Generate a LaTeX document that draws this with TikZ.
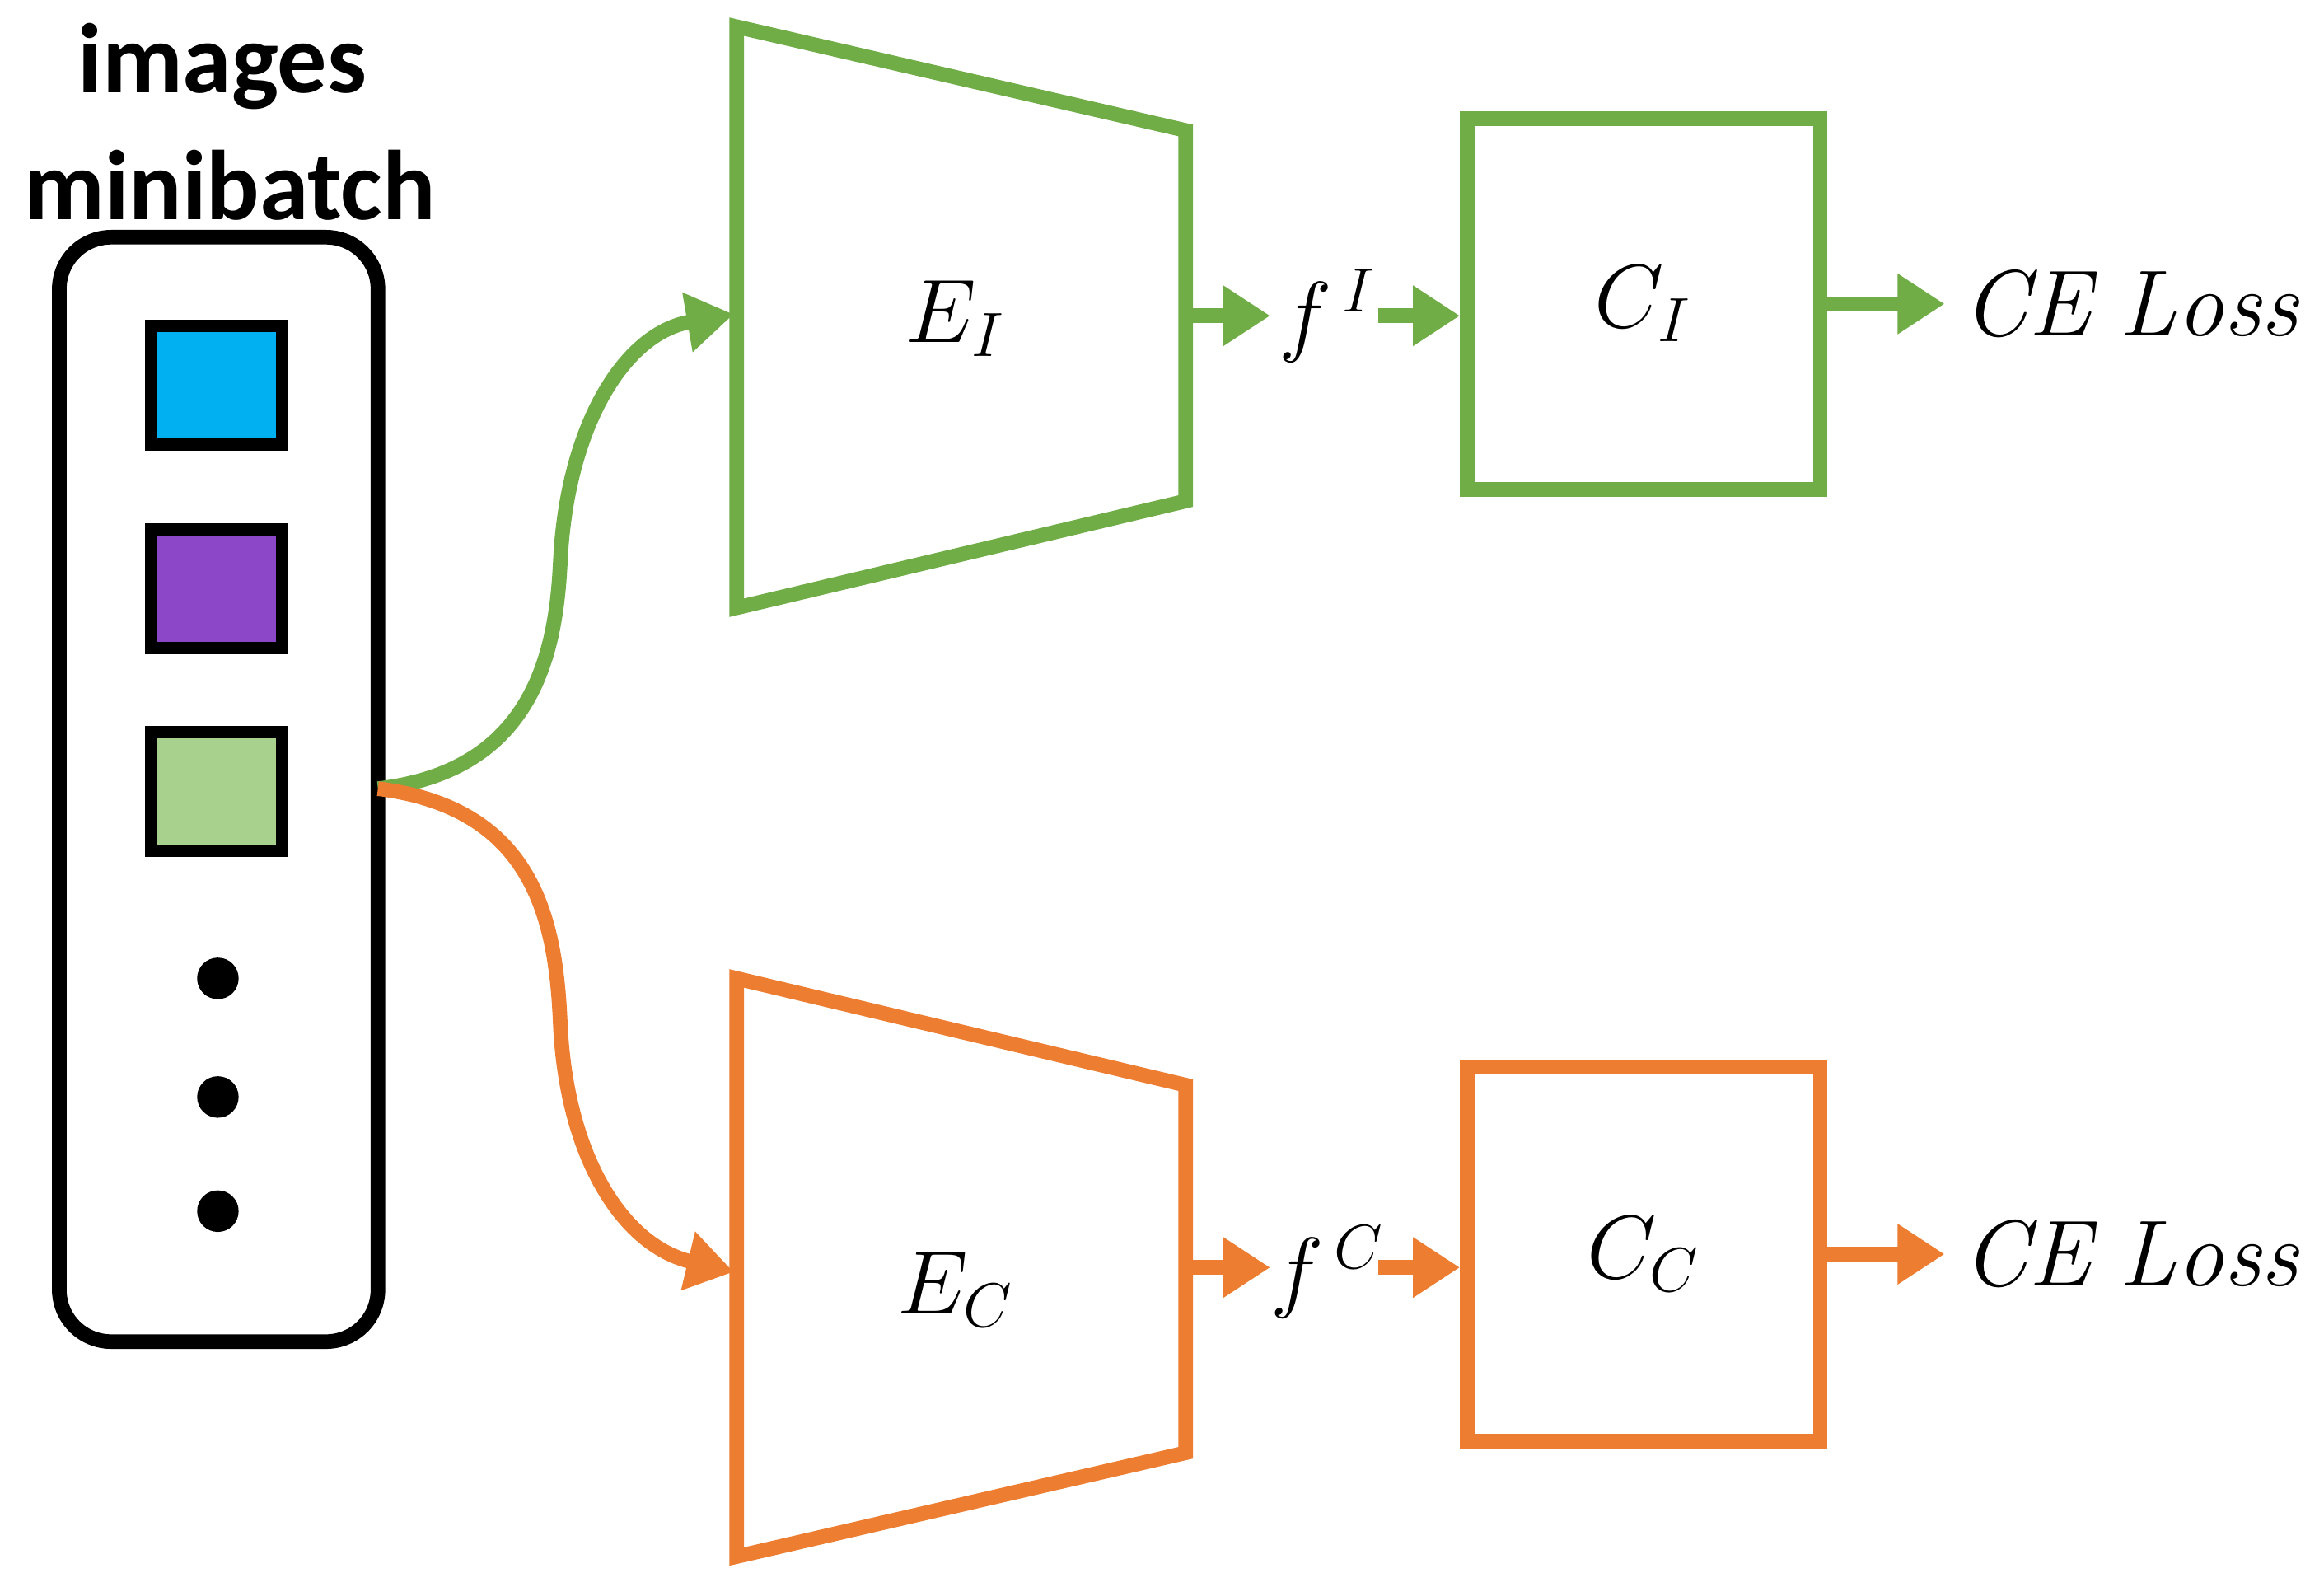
\documentclass[tikz,border=0pt]{standalone}
\usepackage{fontspec}
\setsansfont{Carlito}
\usetikzlibrary{arrows.meta}
\definecolor{gr}{HTML}{70AD47}
\definecolor{orr}{HTML}{ED7D31}
\definecolor{sqb}{HTML}{00B0F0}
\definecolor{sqp}{HTML}{8B47C8}
\definecolor{sqg}{HTML}{A9D18E}
\begin{document}
\begin{tikzpicture}[x=0.01cm,y=-0.01cm,
  lw/.style={line width=2.8pt},
  arr/.style={lw,-{Triangle[length=9pt,width=11pt]}},
  sq/.style={draw=black,line width=2.3pt,minimum width=0.88cm,minimum height=0.8cm,inner sep=0pt},
  lab/.style={font=\fontsize{18pt}{22pt}\selectfont},
  ttl/.style={font=\sffamily\bfseries\fontsize{19pt}{22pt}\selectfont}]
\useasboundingbox (0,0) rectangle (1568,1070);
\node[ttl] (t1) at (150,45) {images};
\node[ttl] (t2) at (155,125) {minibatch};
\draw[line width=2.8pt,rounded corners=0.35cm] (40,160) rectangle (255,905);
\node[sq,fill=sqb] (s1) at (146,260) {};
\node[sq,fill=sqp] (s2) at (146,397) {};
\node[sq,fill=sqg] (s3) at (146,534) {};
\foreach \y in {660,740,817} \fill (147,\y) circle (0.14cm);
\coordinate (src) at (255,532);
\draw[gr,lw,line join=miter] (497,18) -- (800,88) -- (800,338) -- (497,410) -- cycle;
\draw[orr,lw,line join=miter] (497,660) -- (800,732) -- (800,980) -- (497,1050) -- cycle;
\node[lab] (EI) at (645,215) {$E_I$};
\node[lab] (EC) at (645,870) {$E_C$};
\coordinate (ein) at (495,212);
\coordinate (ecin) at (495,858);
\draw[gr,arr] (src) .. controls (360,520) and (375,440) .. (378,380) .. controls (382,290) and (420,225) .. (ein);
\draw[orr,arr] (src) .. controls (360,545) and (375,620) .. (378,690) .. controls (382,780) and (420,840) .. (ecin);
\node[lab] (fI) at (896,213) {$f^{\,I}$};
\node[lab] (fC) at (896,858) {$f^{\,C}$};
\coordinate (eo1) at (800,213); \coordinate (eo2) at (800,855);
\draw[gr,arr] (eo1) -- (857,213);
\draw[orr,arr] (eo2) -- (857,855);
\node[draw=gr,lw,minimum width=2.38cm,minimum height=2.5cm,lab] (CI) at (1109,205) {$C_I$};
\node[draw=orr,lw,minimum width=2.38cm,minimum height=2.52cm,lab] (CC) at (1109,846) {$C_C$};
\draw[gr,arr] (930,213) -- (CI.west|-0,213);
\draw[orr,arr] (930,855) -- (CC.west|-0,855);
\node[lab,anchor=west] (L1) at (1312,205) {$\mathit{CE\ Loss}$};
\node[lab,anchor=west] (L2) at (1312,846) {$\mathit{CE\ Loss}$};
\draw[gr,arr] (CI.east) -- (L1.west);
\draw[orr,arr] (CC.east) -- (L2.west);
\end{tikzpicture}
\end{document}
